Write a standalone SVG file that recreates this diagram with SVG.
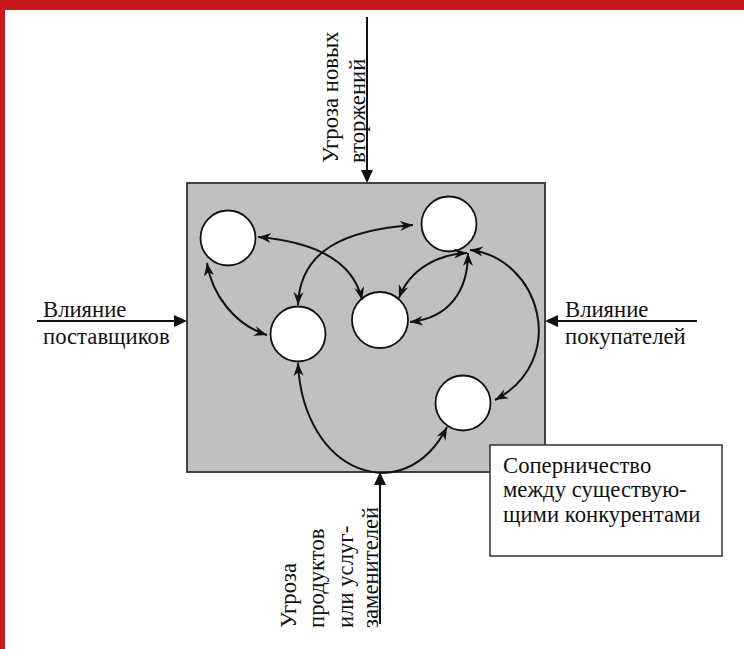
<svg xmlns="http://www.w3.org/2000/svg" width="744" height="649" viewBox="0 0 744 649">
<style>
.t{font-family:"Liberation Serif","DejaVu Serif",serif;font-size:22.7px;fill:#111}
.c{fill:#fff;stroke:#111;stroke-width:1.8}
.cn{fill:none;stroke:#111;stroke-width:2}
.ext{stroke:#111;stroke-width:2}
</style>
<defs>
<marker id="ah" markerUnits="userSpaceOnUse" markerWidth="15" markerHeight="12" refX="13" refY="5" orient="auto-start-reverse" viewBox="0 0 15 10">
<path d="M0,0 L13,5 L0,10 L4,5 z" fill="#111"/>
</marker>
</defs>
<rect x="0" y="0" width="744" height="10" fill="#c8191c"/>
<rect x="0" y="0" width="5" height="649" fill="#c8191c"/>

<g id="market">
<rect x="187" y="183" width="358" height="289" fill="#c0c0c0" stroke="#333" stroke-width="1.8"/>
</g>

<g id="n1"><circle class="c" cx="228" cy="238" r="27.5"/></g>
<g id="n2"><circle class="c" cx="449" cy="224" r="27.5"/></g>
<g id="n3"><circle class="c" cx="298" cy="334" r="27.5"/></g>
<g id="n4"><circle class="c" cx="380" cy="320" r="28"/></g>
<g id="n5"><circle class="c" cx="463" cy="403" r="27.5"/></g>

<g id="connectors">
<path class="cn" marker-start="url(#ah)" marker-end="url(#ah)" d="M258,237 Q350,245 362,300"/>
<path class="cn" marker-start="url(#ah)" marker-end="url(#ah)" d="M413,225 C345,230 300,250 298,305"/>
<path class="cn" marker-start="url(#ah)" marker-end="url(#ah)" d="M207,263 C212,295 235,325 267,335"/>
<path class="cn" marker-start="url(#ah)" marker-end="url(#ah)" d="M467,253 C440,254 410,268 399,298"/>
<path class="cn" marker-start="url(#ah)" marker-end="url(#ah)" d="M468,253 C468,290 450,318 410,322"/>
<path class="cn" marker-start="url(#ah)" marker-end="url(#ah)" d="M470,250 C540,258 570,360 495,400"/>
<path class="cn" marker-start="url(#ah)" marker-end="url(#ah)" d="M298,363 C303,475 405,510 447,427"/>

<line class="ext" x1="367" y1="17" x2="367" y2="171"/>
<polygon points="361,170 373,170 367,183" fill="#111"/>
<line class="ext" x1="37" y1="321" x2="175" y2="321"/>
<polygon points="174,315 174,327 187,321" fill="#111"/>
<line class="ext" x1="697" y1="321" x2="557" y2="321"/>
<polygon points="558,315 558,327 545,321" fill="#111"/>
<line class="ext" x1="380" y1="624" x2="380" y2="484"/>
<polygon points="374,485 386,485 380,472" fill="#111"/>
</g>

<g id="label-top">
<text class="t" transform="translate(338,163) rotate(-90)">Угроза новых</text>
<text class="t" transform="translate(365,163) rotate(-90)">вторжений</text>
</g>
<g id="label-left">
<text class="t" x="43" y="317">Влияние</text>
<text class="t" x="43" y="344">поставщиков</text>
</g>
<g id="label-right">
<text class="t" x="565" y="317">Влияние</text>
<text class="t" x="565" y="344">покупателей</text>
</g>
<g id="label-bottom">
<text class="t" transform="translate(296,628) rotate(-90)">Угроза</text>
<text class="t" transform="translate(324,628) rotate(-90)">продуктов</text>
<text class="t" transform="translate(353,628) rotate(-90)">или услуг-</text>
<text class="t" transform="translate(378,628) rotate(-90)">заменителей</text>
</g>
<g id="rivalry">
<rect x="490" y="445" width="232" height="111" fill="#fff" stroke="#333" stroke-width="1.5"/>
<text class="t" x="503" y="473">Соперничество</text>
<text class="t" x="503" y="497">между существую-</text>
<text class="t" x="503" y="522">щими конкурентами</text>
</g>
</svg>
